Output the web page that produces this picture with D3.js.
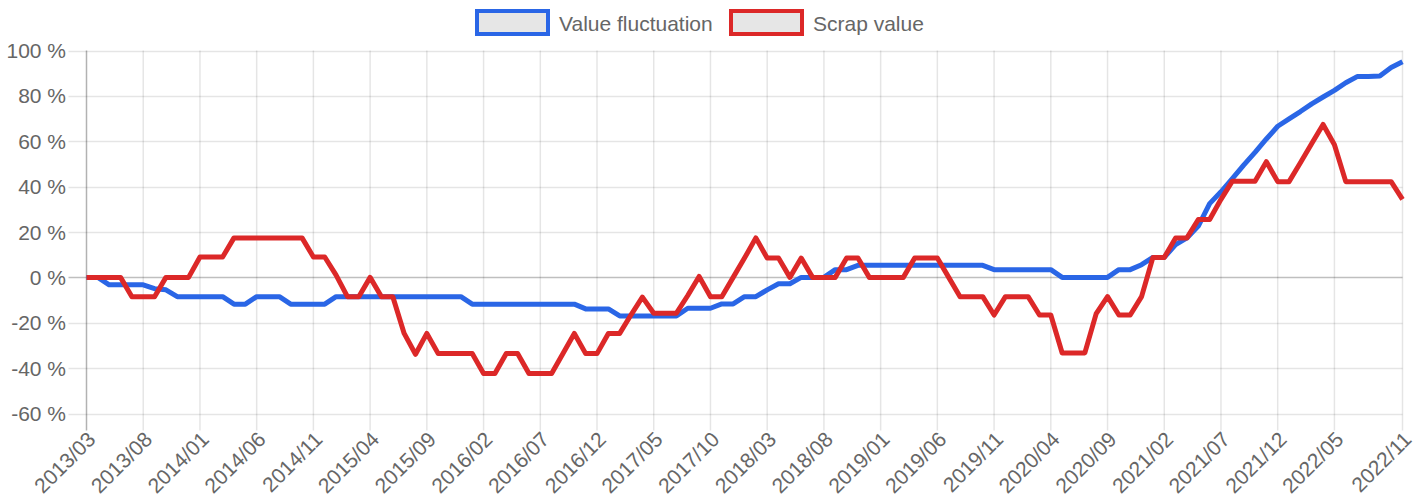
<!DOCTYPE html>
<html><head><meta charset="utf-8">
<script src="https://cdn.jsdelivr.net/npm/d3@7"></script>
<style>
html,body{margin:0;padding:0;background:#fff;}
svg text{font-family:"Liberation Sans",Arial,Helvetica,sans-serif;fill:#666;}
</style></head>
<body><svg id="c" width="1423" height="500"></svg>
<script>
// ---- data ----
const startMonth = "2013/03";
const endMonth = "2022/11";
const seriesNames = ["Value fluctuation", "Scrap value"];
const seriesColors = ["#2a66e6", "#dc2828"];
const yTicks = [-60, -40, -20, 0, 20, 40, 60, 80, 100];
const xTickLabels = ["2013/03","2013/08","2014/01","2014/06","2014/11","2015/04","2015/09","2016/02","2016/07","2016/12","2017/05","2017/10","2018/03","2018/08","2019/01","2019/06","2019/11","2020/04","2020/09","2021/02","2021/07","2021/12","2022/05","2022/11"];

const valueFluctuation = [
 0,0,-3.3,-3.3,-3.3,-3.3,-5,-5.5,-8.5,-8.5,
 -8.5,-8.5,-8.5,-11.8,-11.8,-8.5,-8.5,-8.5,-11.8,-11.8,
 -11.8,-11.8,-8.5,-8.5,-8.5,-8.5,-8.5,-8.5,-8.5,-8.5,
 -8.5,-8.5,-8.5,-8.5,-11.8,-11.8,-11.8,-11.8,-11.8,-11.8,
 -11.8,-11.8,-11.8,-11.8,-13.9,-13.9,-13.9,-17,-17,-17,
 -17,-17,-17,-13.6,-13.6,-13.6,-11.7,-11.7,-8.5,-8.5,
 -5.5,-2.8,-2.8,0,0,0,3.4,3.4,5.3,5.3,
 5.3,5.3,5.3,5.3,5.3,5.3,5.3,5.3,5.3,5.3,
 3.4,3.4,3.4,3.4,3.4,3.4,0,0,0,0,
 0,3.4,3.4,5.6,8.8,8.8,14.4,17.4,22.6,32.5,
 37.7,43.5,49.5,55.1,61,66.6,69.9,73.1,76.5,79.5,
 82.4,85.8,88.5,88.5,88.8,92.5,95
];
const scrapValue = [
 0,0,0,0,-8.5,-8.5,-8.5,0,0,0,
 9,9,9,17.4,17.4,17.4,17.4,17.4,17.4,17.4,
 9,9,1,-8.5,-8.5,0,-8.5,-8.5,-24.7,-33.9,
 -24.7,-33.6,-33.6,-33.6,-33.6,-42.4,-42.4,-33.6,-33.6,-42.4,
 -42.4,-42.4,-33.6,-24.7,-33.6,-33.6,-24.7,-24.7,-16.5,-8.7,
 -15.8,-15.8,-15.8,-8,0.4,-8.5,-8.5,0,8.5,17.4,
 8.5,8.5,0,8.5,0,0,0,8.5,8.5,0,
 0,0,0,8.5,8.5,8.5,0,-8.5,-8.5,-8.5,
 -16.6,-8.5,-8.5,-8.5,-16.6,-16.6,-33.3,-33.3,-33.3,-16,
 -8.5,-16.6,-16.6,-8.5,8.8,8.8,17.4,17.4,25.5,25.5,
 34.4,42.4,42.4,42.4,51,42.2,42.2,50.5,59,67.4,
 58.5,42.2,42.2,42.2,42.2,42.2,34.4
];

// ---- categories (monthly) ----
function monthList(a, b) {
  let [y, m] = a.split("/").map(Number);
  const [ye, me] = b.split("/").map(Number);
  const out = [];
  while (y < ye || (y === ye && m <= me)) {
    out.push(y + "/" + String(m).padStart(2, "0"));
    m++; if (m > 12) { m = 1; y++; }
  }
  return out;
}
const months = monthList(startMonth, endMonth);

// ---- layout ----
const svg = d3.select("#c");
const L = 86.5, R = 1402.5, T = 50.5, B = 413.5;
const FS = 21;
const x = d3.scalePoint().domain(months).range([L, R]);
const y = d3.scaleLinear().domain([-60, 100]).range([B, T]);

// grid
const grid = svg.append("g");
grid.selectAll("line.h").data(yTicks).join("line")
  .attr("x1", L - 18).attr("x2", R)
  .attr("y1", d => Math.round(y(d)) + 0.5).attr("y2", d => Math.round(y(d)) + 0.5)
  .attr("stroke", d => d === 0 ? "rgba(0,0,0,0.25)" : "rgba(0,0,0,0.1)")
  .attr("stroke-width", 1.5);
grid.selectAll("line.v").data(xTickLabels).join("line")
  .attr("x1", d => x(d)).attr("x2", d => x(d))
  .attr("y1", T).attr("y2", B + 17)
  .attr("stroke", (d, i) => i === 0 ? "rgba(0,0,0,0.3)" : "rgba(0,0,0,0.1)")
  .attr("stroke-width", 1.5);

// y labels
svg.append("g").selectAll("text").data(yTicks).join("text")
  .attr("x", 66).attr("y", d => y(d))
  .attr("text-anchor", "end").attr("dominant-baseline", "central")
  .attr("font-size", FS)
  .text(d => d + " %");

// x labels
svg.append("g").selectAll("text").data(xTickLabels).join("text")
  .attr("transform", d => `translate(${x(d) + 5},${B + 22}) rotate(-45)`)
  .attr("text-anchor", "end").attr("dominant-baseline", "central")
  .attr("font-size", FS)
  .text(d => d);

// lines
const line = d3.line().x((d, i) => x(months[i])).y(d => y(d));
[valueFluctuation, scrapValue].forEach((s, k) => {
  svg.append("path").datum(s)
    .attr("d", line)
    .attr("fill", "none")
    .attr("stroke", seriesColors[k])
    .attr("stroke-width", 5)
    .attr("stroke-linejoin", "round")
    .attr("stroke-linecap", "butt");
});

// legend
const legendX = [477, 731];
const lg = svg.append("g");
seriesNames.forEach((n, k) => {
  lg.append("rect").attr("x", legendX[k]).attr("y", 11).attr("width", 71).attr("height", 23)
    .attr("fill", "#e6e6e6").attr("stroke", seriesColors[k]).attr("stroke-width", 4);
  lg.append("text").attr("x", legendX[k] + 82).attr("y", 23)
    .attr("dominant-baseline", "central").attr("font-size", FS).text(n);
});
</script></body></html>
